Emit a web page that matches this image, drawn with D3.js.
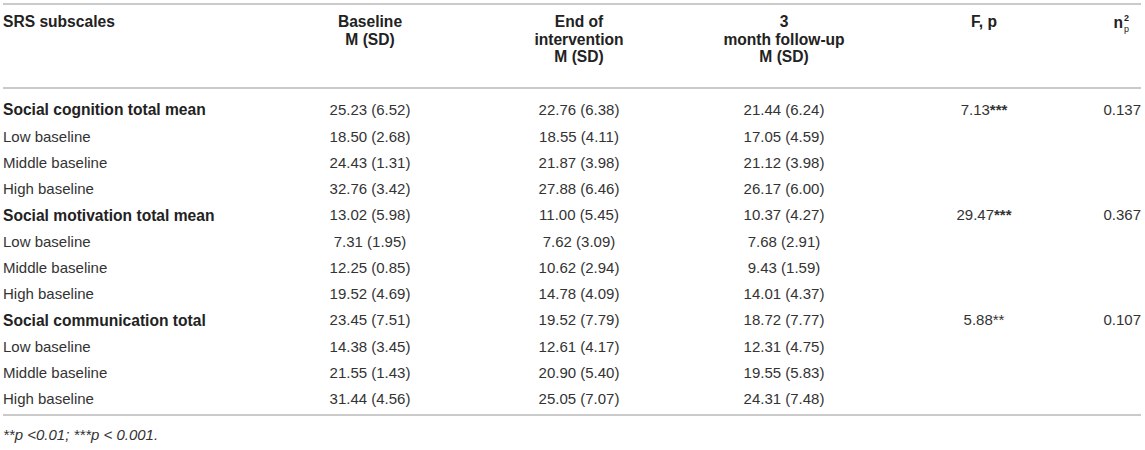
<!DOCTYPE html>
<html>
<head>
<meta charset="utf-8">
<script src="https://cdn.jsdelivr.net/npm/d3@7"></script>
<style>
  body { margin: 0; background: #fff; }
  svg { font-family: "Liberation Sans", Arial, sans-serif; }
</style>
</head>
<body>
<div id="table"></div>
<script>
// rows of the table
var groups = ["Social cognition total mean", "Social motivation total mean", "Social communication total"];
var levels = ["Low baseline", "Middle baseline", "High baseline"];

var baselineM  = [25.23, 18.50, 24.43, 32.76, 13.02, 7.31, 12.25, 19.52, 23.45, 14.38, 21.55, 31.44];
var baselineSD = [6.52, 2.68, 1.31, 3.42, 5.98, 1.95, 0.85, 4.69, 7.51, 3.45, 1.43, 4.56];
var endM       = [22.76, 18.55, 21.87, 27.88, 11.00, 7.62, 10.62, 14.78, 19.52, 12.61, 20.90, 25.05];
var endSD      = [6.38, 4.11, 3.98, 6.46, 5.45, 3.09, 2.94, 4.09, 7.79, 4.17, 5.40, 7.07];
var followM    = [21.44, 17.05, 21.12, 26.17, 10.37, 7.68, 9.43, 14.01, 18.72, 12.31, 19.55, 24.31];
var followSD   = [6.24, 4.59, 3.98, 6.00, 4.27, 2.91, 1.59, 4.37, 7.77, 4.75, 5.83, 7.48];

// one value per group
var fValues = [7.13, 29.47, 5.88];
var fStars  = ["***", "***", "**"];
var etaValues = [0.137, 0.367, 0.107];

var footnote = "**p <0.01; ***p < 0.001.";

var width = 1145, height = 450;
var textColor = "#333";
var lineColor = "#b8b8b8";
var fs = 15;

// flatten rows
var rows = [];
groups.forEach(function(g, gi) {
    rows.push({label: g, total: true, group: gi});
    levels.forEach(function(l) { rows.push({label: l, total: false, group: gi}); });
});
rows.forEach(function(r, i) {
    r.i = i;
    r.base = baselineM[i];  r.baseSD = baselineSD[i];
    r.end = endM[i];        r.endSD = endSD[i];
    r.follow = followM[i];  r.followSD = followSD[i];
});

var f2 = d3.format(".2f"), f3 = d3.format(".3f");
var cell = function(m, sd) { return f2(m) + " (" + f2(sd) + ")"; };

var y = d3.scalePoint()
    .domain(d3.range(rows.length))
    .range([110, 399]);

var col = d3.scaleOrdinal()
    .domain(["label", "base", "end", "follow", "f", "eta"])
    .range([3, 370, 579, 784, 984, 1141]);

var svg = d3.select("#table").append("svg")
    .attr("width", width)
    .attr("height", height);

// rules
[4, 88, 415].forEach(function(ly) {
    svg.append("line")
        .attr("x1", 3).attr("x2", 1141)
        .attr("y1", ly).attr("y2", ly)
        .attr("stroke", lineColor)
        .attr("stroke-width", 1.6);
});

// header
var header = [
    {key: "label", lines: ["SRS subscales"], anchor: "start"},
    {key: "base", lines: ["Baseline", "M (SD)"], anchor: "middle"},
    {key: "end", lines: ["End of", "intervention", "M (SD)"], anchor: "middle"},
    {key: "follow", lines: ["3", "month follow-up", "M (SD)"], anchor: "middle"},
    {key: "f", lines: ["F, p"], anchor: "middle"}
];

var hg = svg.append("g")
    .attr("font-weight", "bold")
    .attr("font-size", 15.6)
    .attr("fill", "#222");

header.forEach(function(h) {
    var t = hg.append("text")
        .attr("x", col(h.key))
        .attr("y", 27)
        .attr("text-anchor", h.anchor);
    h.lines.forEach(function(l, k) {
        t.append("tspan")
            .attr("x", col(h.key))
            .attr("dy", k ? 17.5 : 0)
            .text(l);
    });
});

// n with sub p and sup 2
hg.append("text")
    .attr("x", col("eta") - 18)
    .attr("y", 28)
    .attr("text-anchor", "end")
    .text("n");
hg.append("text")
    .attr("x", col("eta") - 17).attr("y", 21)
    .attr("font-size", 9)
    .text("2");
hg.append("text")
    .attr("x", col("eta") - 17).attr("y", 32)
    .attr("font-size", 9)
    .attr("font-weight", "normal")
    .text("p");

// body
var body = svg.append("g")
    .attr("font-size", fs)
    .attr("fill", textColor);

var row = body.selectAll("g.row")
    .data(rows)
    .join("g")
    .attr("class", "row")
    .attr("transform", function(d) { return "translate(0," + y(d.i) + ")"; });

row.append("text")
    .attr("x", col("label"))
    .attr("dy", "0.35em")
    .attr("font-weight", function(d) { return d.total ? "bold" : null; })
    .attr("font-size", function(d) { return d.total ? 15.6 : null; })
    .attr("fill", function(d) { return d.total ? "#222" : null; })
    .text(function(d) { return d.label; });

[["base", "baseSD"], ["end", "endSD"], ["follow", "followSD"]].forEach(function(c) {
    row.append("text")
        .attr("x", col(c[0]))
        .attr("dy", "0.35em")
        .attr("text-anchor", "middle")
        .text(function(d) { return cell(d[c[0]], d[c[1]]); });
});

var totals = row.filter(function(d) { return d.total; });

var ft = totals.append("text")
    .attr("x", col("f"))
    .attr("dy", "0.35em")
    .attr("text-anchor", "middle");
ft.append("tspan").text(function(d) { return f2(fValues[d.group]); });
ft.append("tspan")
    .attr("font-weight", function(d) { return fStars[d.group].length > 2 ? "bold" : null; })
    .text(function(d) { return fStars[d.group]; });

totals.append("text")
    .attr("x", col("eta"))
    .attr("dy", "0.35em")
    .attr("text-anchor", "end")
    .text(function(d) { return f3(etaValues[d.group]); });

svg.append("text")
    .attr("x", col("label"))
    .attr("y", 440)
    .attr("font-size", 15)
    .attr("font-style", "italic")
    .attr("fill", textColor)
    .text(footnote);
</script>
</body>
</html>
